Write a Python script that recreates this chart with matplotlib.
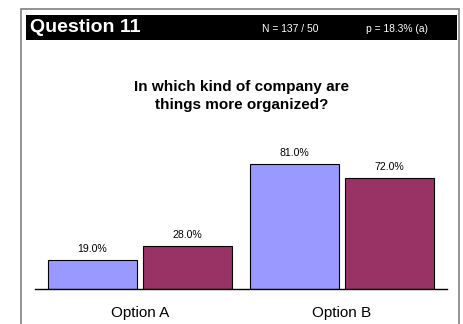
import matplotlib
matplotlib.use("Agg")
import matplotlib.pyplot as plt
import matplotlib.patches as patches
import numpy as np

plt.rcParams['font.family'] = ['Liberation Sans', 'DejaVu Sans']

categories = ["Option A", "Option B"]
series_1 = [19.0, 81.0]
series_2 = [28.0, 72.0]
colors = ["#9999FF", "#993366"]

question = "Question 11"
sample_info = "N = 137 / 50"
p_info = "p = 18.3% (a)"
title = "In which kind of company are\nthings more organized?"

W, H = 463, 324
fig = plt.figure(figsize=(W / 100, H / 100), dpi=100)


def px(x, y):
    # pixel coords (from top-left) -> figure fraction
    return x / W, 1 - y / H


# outer frame, open at the bottom
frame = patches.Rectangle(px(21, 330), 438 / W, 321 / H, transform=fig.transFigure,
                          facecolor="none", edgecolor="#7f7f7f", linewidth=1.2)
fig.patches.append(frame)

# header bar
bar = patches.Rectangle(px(26, 40), 431 / W, 25 / H, transform=fig.transFigure,
                        facecolor="black", edgecolor="none")
fig.patches.append(bar)
fig.text(*px(30, 27.5), question, color="white", fontsize=14, fontweight="bold",
         va="center", ha="left")
fig.text(*px(262, 28.5), sample_info, color="white", fontsize=7.4, va="center", ha="left")
fig.text(*px(366, 28.5), p_info, color="white", fontsize=7.4, va="center", ha="left")

fig.text(*px(242, 96), title, fontsize=11, fontweight="bold", ha="center", va="center",
         linespacing=1.3)

# plotting area: baseline at y=289, 100% at y~134.7
ax = fig.add_axes([35 / W, (H - 289) / H, 412 / W, 154.3 / H])
x = np.arange(len(categories))
w = 0.44
off = 0.235
b1 = ax.bar(x - off, series_1, w, color=colors[0], edgecolor="black", linewidth=0.8)
b2 = ax.bar(x + off, series_2, w, color=colors[1], edgecolor="black", linewidth=0.8)

for bars in (b1, b2):
    for rect in bars:
        v = rect.get_height()
        ax.annotate(f"{v:.1f}%", (rect.get_x() + rect.get_width() / 2, v),
                    xytext=(0, 4), textcoords="offset points",
                    ha="center", va="bottom", fontsize=7.6)

ax.set_xlim(-0.52, 1.52)
ax.set_ylim(0, 100)
ax.set_xticks(x)
ax.set_xticklabels(categories, fontsize=11)
ax.tick_params(axis="x", length=0, pad=12)
ax.set_yticks([])
for s in ["left", "right", "top"]:
    ax.spines[s].set_visible(False)
ax.spines["bottom"].set_linewidth(1)
ax.patch.set_alpha(0)

fig.savefig("out.png", dpi=100)
